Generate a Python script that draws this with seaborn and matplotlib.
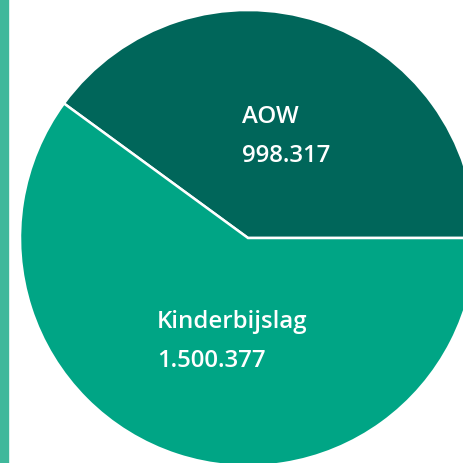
import matplotlib
matplotlib.use("Agg")
import matplotlib.pyplot as plt
import matplotlib.patches as patches
import seaborn as sns

# data
labels = ["AOW", "Kinderbijslag"]
values = [998317, 1500377]
value_labels = ["998.317", "1.500.377"]
colors = ["#00665a", "#00a585"]

sns.set_theme(style="white")
plt.rcParams["font.family"] = ["Open Sans", "DejaVu Sans"]

fig = plt.figure(figsize=(4.63, 4.64), dpi=100)
ax = fig.add_axes([0, 0, 1, 1])

# pie, cropped by the canvas edge
ax.pie(
    values,
    colors=colors,
    startangle=0,
    counterclock=True,
    center=(248, 225),
    radius=228,
    wedgeprops=dict(edgecolor="white", linewidth=1.8),
    frame=True,
)
ax.set_xlim(0, 463)
ax.set_ylim(0, 464)
ax.set_aspect("equal")
ax.axis("off")

# side bar on the left
ax.add_patch(patches.Rectangle((0, 0), 8, 464, color="#3fb89b", clip_on=False))

# labels
text_pos = [(242, 341), (157, 136)]
for (x, y), lab, val in zip(text_pos, labels, value_labels):
    ax.text(x, y, lab, color="white", fontsize=17.3, fontweight="semibold",
            ha="left", va="baseline")
    ax.text(x, y - 39, val, color="white", fontsize=17.3, fontweight="semibold",
            ha="left", va="baseline")

plt.savefig("out.png", dpi=100)
